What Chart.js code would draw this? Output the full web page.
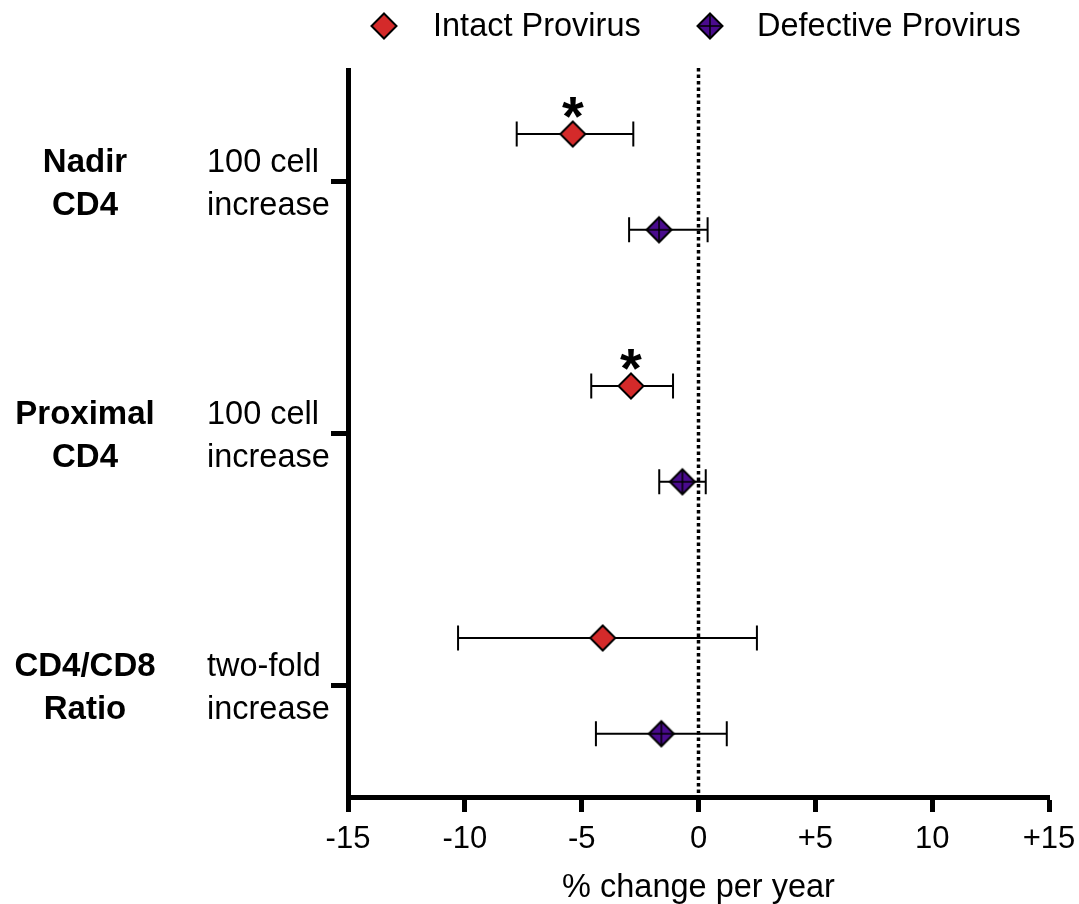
<!DOCTYPE html>
<html><head><meta charset="utf-8">
<script src="https://cdn.jsdelivr.net/npm/chart.js@4.4.1/dist/chart.umd.min.js"></script>
<style>html,body{margin:0;padding:0;background:#fff}canvas{display:block}</style>
</head><body>
<canvas id="c" width="1079" height="904"></canvas>
<script>
// ---- data ----
const groupNames = [['Nadir','CD4'],['Proximal','CD4'],['CD4/CD8','Ratio']];
const groupUnits = [['100 cell','increase'],['100 cell','increase'],['two-fold','increase']];
const seriesNames = ['Intact Provirus','Defective Provirus'];
const intactEst  = [-5.38, -2.89, -4.10];
const intactLow  = [-7.78, -4.59, -10.29];
const intactHigh = [-2.79, -1.09, 2.50];
const intactSig  = [true, true, false];
const defectiveEst  = [-1.69, -0.69, -1.59];
const defectiveLow  = [-2.97, -1.68, -4.39];
const defectiveHigh = [0.39, 0.31, 1.21];
const defectiveSig  = [false, false, false];
const xTickValues = [-15, -10, -5, 0, 5, 10, 15];
const xTickLabels = ['-15', '-10', '-5', '0', '+5', '10', '+15'];

const FONT = '"Liberation Sans", Arial, Helvetica, sans-serif';
const RED = '#d42a2a', PURPLE = '#4a0b8e';
const ROW_OFFSET = 0.19;

function makeMarker(fill, cross){
  const s = 32, c = document.createElement('canvas'); c.width = s; c.height = s;
  const g = c.getContext('2d'); const m = s/2, r = 12.5;
  g.beginPath(); g.moveTo(m, m-r); g.lineTo(m+r, m); g.lineTo(m, m+r); g.lineTo(m-r, m); g.closePath();
  g.fillStyle = fill; g.fill();
  if (cross){
    g.beginPath(); g.moveTo(m, m-r); g.lineTo(m, m+r); g.moveTo(m-r, m); g.lineTo(m+r, m);
    g.lineWidth = 1.5; g.strokeStyle = '#000'; g.stroke();
  }
  g.beginPath(); g.moveTo(m, m-r); g.lineTo(m+r, m); g.lineTo(m, m+r); g.lineTo(m-r, m); g.closePath();
  g.lineWidth = 2; g.strokeStyle = '#000'; g.lineJoin = 'miter'; g.stroke();
  return c;
}
const redMarker = makeMarker(RED, false);
const purpleMarker = makeMarker(PURPLE, true);

function buildPoints(est, lo, hi, sig, off){
  return est.map((v, i) => ({x: v, y: i + off, lo: lo[i], hi: hi[i], sig: sig[i]}));
}

function tallText(ctx, txt, x, y, sy){
  ctx.save(); ctx.translate(x, y); ctx.scale(1, sy); ctx.fillText(txt, 0, 0); ctx.restore();
}

const errorBarsPlugin = {
  id: 'errorBars',
  beforeDatasetsDraw(chart){
    const {ctx, chartArea} = chart; const xs = chart.scales.x, ys = chart.scales.y;
    ctx.save();
    ctx.strokeStyle = '#000'; ctx.lineWidth = 2;
    chart.data.datasets.forEach(ds => ds.data.forEach(p => {
      const py = ys.getPixelForValue(p.y), x1 = xs.getPixelForValue(p.lo), x2 = xs.getPixelForValue(p.hi);
      ctx.beginPath();
      ctx.moveTo(x1, py); ctx.lineTo(x2, py);
      ctx.moveTo(x1, py-12.5); ctx.lineTo(x1, py+12.5);
      ctx.moveTo(x2, py-12.5); ctx.lineTo(x2, py+12.5);
      ctx.stroke();
    }));
    const zx = xs.getPixelForValue(0);
    ctx.setLineDash([3.5, 3]); ctx.lineWidth = 3.5;
    ctx.beginPath(); ctx.moveTo(zx, chartArea.top - 2); ctx.lineTo(zx, chartArea.bottom); ctx.stroke();
    ctx.restore();
  },
  afterDatasetsDraw(chart){
    const {ctx} = chart; const xs = chart.scales.x, ys = chart.scales.y;
    ctx.save(); ctx.fillStyle = '#000'; ctx.font = 'bold 56px ' + FONT; ctx.textAlign = 'center'; ctx.textBaseline = 'alphabetic';
    chart.data.datasets.forEach(ds => ds.data.forEach(p => {
      if (p.sig) ctx.fillText('*', xs.getPixelForValue(p.x), ys.getPixelForValue(p.y) + 1);
    }));
    ctx.restore();
  },
  afterDraw(chart){
    const {ctx} = chart; const ys = chart.scales.y;
    ctx.save(); ctx.fillStyle = '#000'; ctx.textBaseline = 'alphabetic';
    groupNames.forEach((lines, i) => {
      const ty = ys.getPixelForValue(i);
      ctx.font = 'bold 33px ' + FONT; ctx.textAlign = 'center';
      tallText(ctx, lines[0], 85, ty - 10, 1.03); tallText(ctx, lines[1], 85, ty + 33, 1.03);
      ctx.font = '32.5px ' + FONT; ctx.textAlign = 'left';
      tallText(ctx, groupUnits[i][0], 207, ty - 10, 1.03); tallText(ctx, groupUnits[i][1], 207, ty + 33, 1.03);
    });
    // legend
    const items = [[redMarker, 384, 433], [purpleMarker, 710, 757]];
    ctx.font = '32.5px ' + FONT; ctx.textAlign = 'left';
    items.forEach((it, k) => {
      ctx.drawImage(it[0], it[1] - it[0].width/2, 26 - it[0].height/2);
      tallText(ctx, chart.data.datasets[k].label, it[2], 36, 1.02);
    });
    ctx.restore();
  }
};

new Chart(document.getElementById('c'), {
  type: 'scatter',
  data: {
    datasets: [
      {label: seriesNames[0], data: buildPoints(intactEst, intactLow, intactHigh, intactSig, -ROW_OFFSET),
       pointStyle: redMarker, pointRadius: 12, pointHoverRadius: 12},
      {label: seriesNames[1], data: buildPoints(defectiveEst, defectiveLow, defectiveHigh, defectiveSig, ROW_OFFSET),
       pointStyle: purpleMarker, pointRadius: 12, pointHoverRadius: 12}
    ]
  },
  options: {
    responsive: false, animation: false, devicePixelRatio: 1,
    layout: {padding: {left: 0, right: 30, top: 70, bottom: 0}},
    plugins: {legend: {display: false}, tooltip: {enabled: false}},
    scales: {
      x: {
        type: 'linear', min: -15, max: 15,
        afterBuildTicks: s => { s.ticks = xTickValues.map(v => ({value: v})); },
        afterFit: s => { s.height = 107; s.paddingLeft = 0; s.paddingRight = 0; },
        ticks: {color: '#000', font: {family: FONT, size: 31}, padding: 9,
                callback: v => xTickLabels[xTickValues.indexOf(v)]},
        grid: {drawOnChartArea: false, drawTicks: true, tickLength: 15, tickWidth: 5, tickColor: '#000'},
        border: {display: true, width: 5, color: '#000'},
        title: {display: true, text: '% change per year', color: '#000', font: {family: FONT, size: 32.5, lineHeight: 1.0}, padding: 0}
      },
      y: {
        type: 'linear', min: -0.444, max: 2.441, reverse: true,
        afterBuildTicks: s => { s.ticks = groupNames.map((g, i) => ({value: i})); },
        afterFit: s => { s.width = 348; s.paddingTop = 0; s.paddingBottom = 0; },
        ticks: {display: false},
        grid: {drawOnChartArea: false, drawTicks: true, tickLength: 17, tickWidth: 5, tickColor: '#000'},
        border: {display: true, width: 5, color: '#000'}
      }
    }
  },
  plugins: [errorBarsPlugin]
});
</script>
</body></html>
